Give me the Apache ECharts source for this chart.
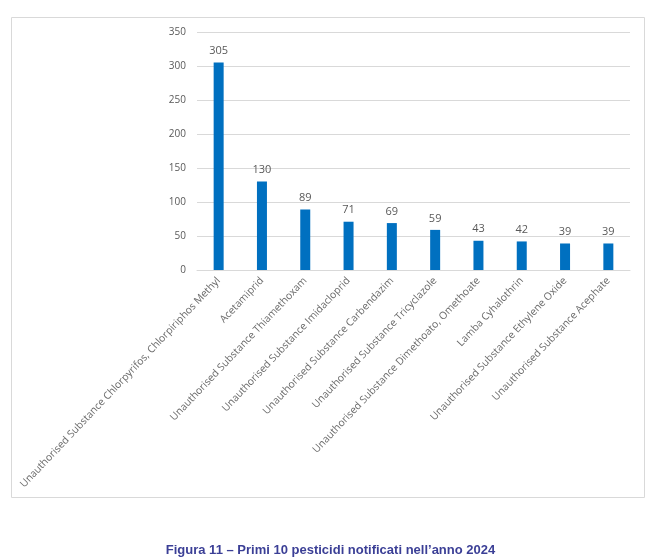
<!DOCTYPE html>
<html>
<head>
<meta charset="utf-8">
<script src="https://cdn.jsdelivr.net/npm/echarts@6/dist/echarts.min.js"></script>
<style>
html, body { margin: 0; padding: 0; background: #fff; }
#chart { width: 661px; height: 559px; }
</style>
</head>
<body>
<div id="chart"></div>
<script>
var categories = [
  'Unauthorised Substance Chlorpyrifos, Chlorpiriphos Methyl',
  'Acetamiprid',
  'Unauthorised Substance Thiamethoxam',
  'Unauthorised Substance Imidacloprid',
  'Unauthorised Substance Carbendazim',
  'Unauthorised Substance Tricyclazole',
  'Unauthorised Substance Dimethoato, Omethoate',
  'Lamba Cyhalothrin',
  'Unauthorised Substance Ethylene Oxide',
  'Unauthorised Substance Acephate'
];
var counts = [305, 130, 89, 71, 69, 59, 43, 42, 39, 39];

var myChart = echarts.init(document.getElementById('chart'));
var option = {
  animation: false,
  title: {
    text: 'Figura 11 \u2013 Primi 10 pesticidi notificati nell\u2019anno 2024',
    left: 'center',
    top: 539,
    textStyle: {
      fontFamily: 'Liberation Sans',
      fontSize: 13,
      fontWeight: 'bold',
      color: '#3b3f96'
    }
  },
  graphic: [{
    type: 'rect',
    shape: { x: 11.5, y: 17.5, width: 633, height: 480 },
    style: { fill: 'none', stroke: '#d9d9d9', lineWidth: 1 },
    silent: true
  }],
  grid: { left: 197, right: 31, top: 32, bottom: 289 },
  xAxis: {
    type: 'category',
    data: categories,
    axisLine: { lineStyle: { color: '#d9d9d9' } },
    axisTick: { show: false },
    axisLabel: {
      rotate: 46.5,
      interval: 0,
      margin: 9,
      fontFamily: 'Open Sans',
      fontSize: 10.3,
      color: '#6a6a6a'
    }
  },
  yAxis: {
    type: 'value',
    min: 0,
    max: 350,
    interval: 50,
    axisLine: { show: false },
    axisTick: { show: false },
    splitLine: { lineStyle: { color: '#d9d9d9' } },
    axisLabel: {
      margin: 11,
      fontFamily: 'Open Sans',
      fontSize: 10,
      color: '#595959'
    }
  },
  series: [{
    type: 'bar',
    data: counts,
    barWidth: 10,
    itemStyle: { color: '#0070c0' },
    label: {
      show: true,
      position: 'top',
      distance: 6,
      fontFamily: 'Open Sans',
      fontSize: 11,
      color: '#595959'
    }
  }]
};
myChart.setOption(option);

window.addEventListener('resize', function () {
  myChart.resize();
});
</script>
</body>
</html>
